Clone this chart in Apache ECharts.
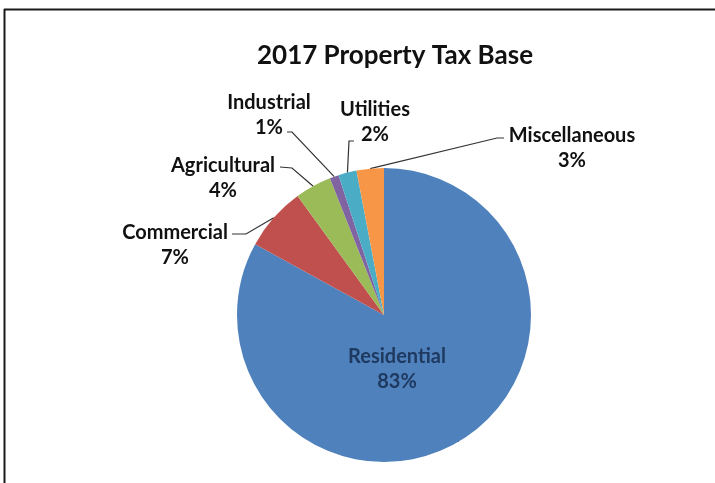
<!DOCTYPE html>
<html>
<head>
<meta charset="utf-8">
<script src="https://cdn.jsdelivr.net/npm/echarts@6/dist/echarts.min.js"></script>
<style>
  html, body { margin: 0; padding: 0; background: #fff; }
  #chart { width: 715px; height: 483px; }
</style>
</head>
<body>
<div id="chart"></div>
<script>
// ---- data ----
const titleText = '2017 Property Tax Base';
const categories = ['Residential', 'Commercial', 'Agricultural', 'Industrial', 'Utilities', 'Miscellaneous'];
const values = [83, 7, 4, 1, 2, 3];
const colors = ['#4F81BD', '#C0504D', '#9BBB59', '#8064A2', '#4BACC6', '#F79646'];

// ---- label layout (positions of text blocks and leader-line bends) ----
const labelLayoutMap = {
  Residential:   { x: 397, y: 369, line: null },
  Commercial:    { x: 175, y: 245, line: [[246, 234], [232, 234]] },
  Agricultural:  { x: 223, y: 178, line: [[292, 168], [280, 167]] },
  Industrial:    { x: 269, y: 115, line: [[292, 132], [287, 132]] },
  Utilities:     { x: 375, y: 122, line: [[349, 141], [354, 141]] },
  Miscellaneous: { x: 572, y: 148, line: [[497, 138], [504, 138]] }
};

const FONT = 'Lato, "Open Sans", sans-serif';
const chart = echarts.init(document.getElementById('chart'));

chart.setOption({
  backgroundColor: '#fff',
  animation: false,
  title: {
    text: titleText,
    left: 390,
    top: 38,
    textAlign: 'center',
    textStyle: { fontFamily: FONT, fontSize: 26, fontWeight: 'bold', color: '#111' }
  },
  graphic: [
    { type: 'line', shape: { x1: 4, y1: 9.5, x2: 715, y2: 9.5 }, style: { stroke: '#1a1a1a', lineWidth: 2 } },
    { type: 'line', shape: { x1: 4.5, y1: 9, x2: 4.5, y2: 483 }, style: { stroke: '#1a1a1a', lineWidth: 2 } }
  ],
  series: [{
    type: 'pie',
    center: [384, 315],
    radius: [0, 147],
    startAngle: 90,
    clockwise: true,
    avoidLabelOverlap: false,
    itemStyle: { borderWidth: 0 },
    data: categories.map((name, i) => ({
      name: name,
      value: values[i],
      itemStyle: { color: colors[i] },
      label: i === 0 ? { color: '#1F3A60' } : {}
    })),
    label: {
      show: true,
      position: 'outside',
      formatter: '{b}\n{c}%',
      fontFamily: FONT,
      fontSize: 20,
      fontWeight: 'bold',
      lineHeight: 25,
      color: '#111',
      align: 'center'
    },
    labelLine: {
      show: true,
      length: 10,
      length2: 10,
      lineStyle: { color: '#333', width: 1.2 }
    },
    labelLayout: function (params) {
      const name = categories[params.dataIndex];
      const cfg = labelLayoutMap[name];
      const out = { x: cfg.x, y: cfg.y, align: 'center', verticalAlign: 'middle' };
      if (cfg.line && params.labelLinePoints) {
        out.labelLinePoints = [params.labelLinePoints[0]].concat(cfg.line);
      }
      return out;
    }
  }]
});
</script>
</body>
</html>
